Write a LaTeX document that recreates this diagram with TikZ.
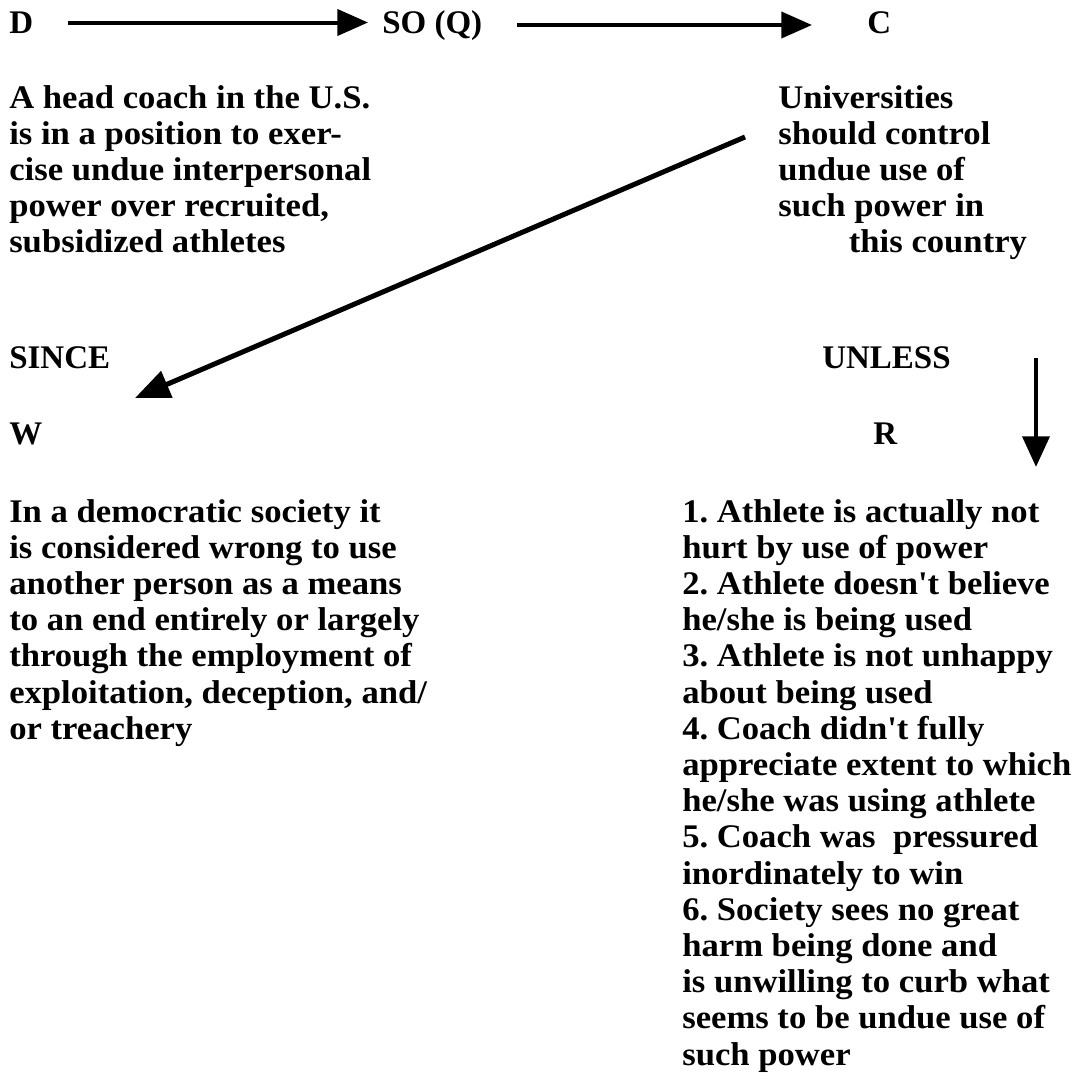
\documentclass[tikz,border=0pt]{standalone}
\usepackage{fontspec}
\usetikzlibrary{arrows.meta}
\setmainfont{Liberation Serif}
\newfontfamily\bodyfam{Liberation Serif}[FakeStretch=1.05]
\frenchspacing
\newcommand{\labelfont}{\fontsize{24.75pt}{27.15pt}\selectfont\bfseries}
\newcommand{\bodyfont}{\bodyfam\fontsize{24.75pt}{27.15pt}\selectfont\bfseries}
% a block of lines whose baseline is that of its first line
\newcommand{\lines}[1]{\begin{tabular}[t]{@{}l@{}}#1\end{tabular}}
\begin{document}
\begin{tikzpicture}[x=0.75pt,y=-0.75pt,
  lab/.style={anchor=base west,inner sep=0pt,font=\labelfont},
  body/.style={anchor=base west,inner sep=0pt,font=\bodyfont},
  toparrow/.style={line width=3pt,-{Triangle[length=23pt,width=19.5pt]}},
  diagarrow/.style={line width=3.75pt,-{Triangle[length=26pt,width=21pt]}},
  downarrow/.style={line width=3.5pt,-{Triangle[length=23pt,width=20pt]}}]
\useasboundingbox (0,0) rectangle (1076,1085);

% Toulmin labels
\node[lab] (D) at (9,33) {D};
\node[lab] (SO) at (382,33) {SO (Q)};
\node[lab] (C) at (867,33) {C};
\node[lab] (since) at (9,368) {SINCE};
\node[lab] (unless) at (822,368) {UNLESS};
\node[lab] (W) at (9,444) {W};
\node[lab] (R) at (873,444) {R};

% data and claim
\node[body] (data) at (9,108) {\lines{A head coach in the U.S.\\
is in a position to exer-\\
cise undue interpersonal\\
power over recruited,\\
subsidized athletes}};
\node[body] (claim) at (778,108) {\lines{Universities\\
should control\\
undue use of\\
such power in\\
\hspace*{53pt}this country}};

% warrant and rebuttal
\node[body] (warrant) at (9,522) {\lines{In a democratic society it\\
is considered wrong to use\\
another person as a means\\
to an end entirely or largely\\
through the employment of\\
exploitation, deception, and/\\
or treachery}};
\node[body] (rebuttal) at (682,522) {\lines{1. Athlete is actually not\\
hurt by use of power\\
2. Athlete doesn't believe\\
he/she is being used\\
3. Athlete is not unhappy\\
about being used\\
4. Coach didn't fully\\
appreciate extent to which\\
he/she was using athlete\\
5. Coach was\ \ pressured\\
inordinately to win\\
6. Society sees no great\\
harm being done and\\
is unwilling to curb what\\
seems to be undue use of\\
such power}};

% connector end points
\coordinate (dq1) at (68,22.5);
\coordinate (dq2) at (368,22.5);
\coordinate (qc1) at (517,25);
\coordinate (qc2) at (812,25);
\coordinate (cw1) at (745,137);
\coordinate (cw2) at (135,398);
\coordinate (ur1) at (1036,358);
\coordinate (ur2) at (1036,467);

\draw[toparrow] (dq1) -- (dq2);
\draw[toparrow] (qc1) -- (qc2);
\draw[diagarrow] (cw1) -- (cw2);
\draw[downarrow] (ur1) -- (ur2);
\end{tikzpicture}
\end{document}
